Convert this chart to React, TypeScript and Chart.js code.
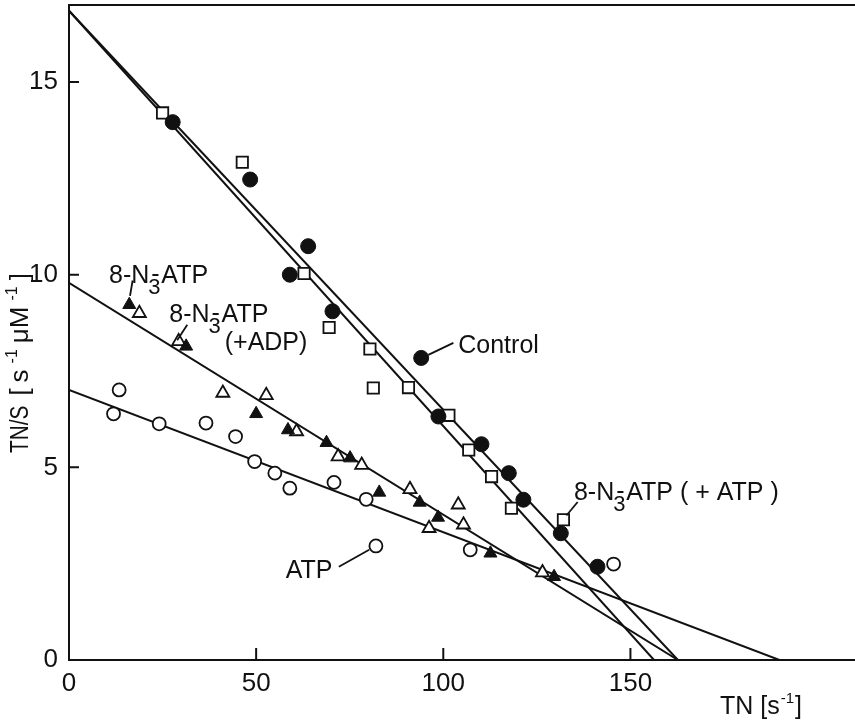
import React, { useEffect, useRef } from "react";
import { Chart, registerables } from "chart.js";

Chart.register(...registerables);

const FONT = '"Liberation Sans", Arial, Helvetica, sans-serif';

// Axis ticks
const xTickValues = [0, 50, 100, 150];
const yTickValues = [0, 5, 10, 15];
const xMax = 210;
const yMax = 17;

// Control (filled circles)
const controlTN = [27.7, 48.4, 59.0, 63.9, 70.4, 98.7, 110.2, 117.5, 121.4, 131.4, 141.2, 94.1];
const controlTNS = [13.96, 12.47, 10.0, 10.74, 9.05, 6.32, 5.6, 4.85, 4.16, 3.29, 2.42, 7.84];

// 8-N3-ATP (+ATP) (open squares)
const plusAtpTN = [25.0, 46.3, 62.8, 69.5, 80.4, 81.3, 90.7, 101.5, 106.8, 112.9, 118.2, 132.1];
const plusAtpTNS = [14.2, 12.92, 10.03, 8.63, 8.07, 7.06, 7.07, 6.35, 5.45, 4.76, 3.94, 3.64];

// 8-N3-ATP (filled triangles)
const n3atpTN = [16.1, 31.3, 50.0, 58.5, 68.8, 75.1, 82.9, 93.7, 98.6, 112.6, 129.6];
const n3atpTNS = [9.22, 8.14, 6.39, 5.97, 5.64, 5.24, 4.35, 4.09, 3.7, 2.77, 2.16];

// 8-N3-ATP (+ADP) (open triangles)
const plusAdpTN = [18.8, 29.3, 41.1, 52.7, 60.8, 71.9, 78.2, 91.1, 96.2, 104.0, 105.4, 126.5];
const plusAdpTNS = [9.0, 8.27, 6.93, 6.87, 5.93, 5.28, 5.06, 4.43, 3.42, 4.03, 3.51, 2.27];

// ATP (open circles)
const atpTN = [11.9, 13.4, 24.1, 36.6, 44.5, 49.6, 55.0, 59.0, 70.8, 79.4, 107.2, 145.5, 82.0];
const atpTNS = [6.39, 7.01, 6.13, 6.15, 5.8, 5.15, 4.85, 4.46, 4.61, 4.17, 2.86, 2.49, 2.96];

// Fitted lines: [TN/S intercept at TN=0, TN intercept at TN/S=0]
const controlFit = [16.85, 162.7];
const plusAtpFit = [16.85, 156.3];
const n3atpFit = [9.79, 162.7];
const atpFit = [7.01, 189.8];

const zip = (xs: number[], ys: number[]) => xs.map((x, i) => ({ x, y: ys[i] }));
const fitLine = (f: number[]) => [
  { x: 0, y: f[0] },
  { x: f[1], y: 0 },
];

function drawN3(ctx: CanvasRenderingContext2D, x: number, y: number, size: number, after: string) {
  ctx.font = `${size}px ${FONT}`;
  ctx.fillText("8-N", x, y);
  let cx = x + ctx.measureText("8-N").width;
  ctx.font = `${size - 3}px ${FONT}`;
  ctx.fillText("3", cx - 1, y + 11);
  ctx.font = `${size}px ${FONT}`;
  ctx.fillText("-", cx + 2, y - 1);
  cx += 12;
  ctx.fillText(after, cx, y);
}

const annotPlugin = {
  id: "annot",
  afterDraw(chart: any) {
    const ctx: CanvasRenderingContext2D = chart.ctx;
    const { left, right, top, bottom } = chart.chartArea;
    const xs = chart.scales.x;
    const ys = chart.scales.y;
    const X = (v: number) => xs.getPixelForValue(v);
    const Y = (v: number) => ys.getPixelForValue(v);
    ctx.save();
    ctx.strokeStyle = "#111";
    ctx.fillStyle = "#111";
    ctx.lineWidth = 2;
    ctx.beginPath();
    ctx.moveTo(left - 1, top);
    ctx.lineTo(right, top);
    xTickValues.forEach((v) => {
      if (v === 0) return;
      ctx.moveTo(X(v), bottom);
      ctx.lineTo(X(v), bottom - 12);
    });
    yTickValues.forEach((v) => {
      if (v === 0) return;
      ctx.moveTo(left, Y(v));
      ctx.lineTo(left + 10, Y(v));
    });
    ctx.stroke();

    // pointers
    ctx.lineWidth = 1.8;
    const seg = (a: number[], b: number[]) => {
      ctx.beginPath();
      ctx.moveTo(X(a[0]), Y(a[1]));
      ctx.lineTo(X(b[0]), Y(b[1]));
      ctx.stroke();
    };
    seg([17.0, 9.85], [16.3, 9.45]);
    seg([31.6, 8.7], [28.9, 8.3]);
    seg([102.7, 8.23], [96.0, 7.92]);
    seg([135.9, 4.1], [132.9, 3.75]);
    seg([72.1, 2.42], [80.2, 2.86]);

    ctx.textBaseline = "alphabetic";
    ctx.textAlign = "left";
    drawN3(ctx, X(10.7), Y(9.79), 25, "ATP");
    drawN3(ctx, X(26.8), Y(8.78), 25, "ATP");
    ctx.font = `25px ${FONT}`;
    ctx.fillText("(+ADP)", X(41.6), Y(8.05));
    ctx.fillText("Control", X(104.0), Y(7.97));
    drawN3(ctx, X(134.9), Y(4.16), 25, "ATP ( + ATP )");
    ctx.font = `25px ${FONT}`;
    ctx.fillText("ATP", X(57.9), Y(2.13));

    // x axis title
    let cx = 720;
    const by = 714;
    ctx.font = `25px ${FONT}`;
    ctx.fillText("TN [s", cx, by);
    cx += ctx.measureText("TN [s").width + 1;
    ctx.font = `15px ${FONT}`;
    ctx.fillText("-1", cx, by - 11);
    cx += ctx.measureText("-1").width + 1;
    ctx.font = `25px ${FONT}`;
    ctx.fillText("]", cx, by);

    // y axis title (rotated)
    ctx.translate(28, 453);
    ctx.rotate(-Math.PI / 2);
    let tx = 0;
    ctx.font = `26px ${FONT}`;
    ctx.save();
    ctx.scale(0.8, 1);
    ctx.fillText("TN/S", 0, 0);
    ctx.restore();
    tx += ctx.measureText("TN/S").width * 0.8 + 10;
    const parts: [string, number, number][] = [
      ["[", 26, 0],
      ["s", 26, 0],
      ["-1", 16, -11],
      ["\u03bcM", 26, 0],
      ["-1", 16, -11],
      ["]", 26, 0],
    ];
    parts.forEach(([t, s, dy]) => {
      ctx.font = `${s}px ${FONT}`;
      ctx.fillText(t, tx, dy);
      tx += ctx.measureText(t).width + 6;
    });
    ctx.restore();
  },
};

export default function App() {
  const ref = useRef<HTMLCanvasElement | null>(null);
  useEffect(() => {
    if (!ref.current) return;
    const open = { backgroundColor: "#fff", borderColor: "#111", borderWidth: 1.8 };
    const filled = { backgroundColor: "#111", borderColor: "#111", borderWidth: 1 };
    const lineStyle = {
      showLine: true,
      pointRadius: 0,
      borderColor: "#111",
      borderWidth: 2,
      backgroundColor: "#111",
      order: 10,
    };
    const chart = new Chart(ref.current, {
      type: "scatter",
      data: {
        datasets: [
          { label: "Control fit", data: fitLine(controlFit), ...lineStyle },
          { label: "+ATP fit", data: fitLine(plusAtpFit), ...lineStyle },
          { label: "8-N3-ATP fit", data: fitLine(n3atpFit), ...lineStyle },
          { label: "ATP fit", data: fitLine(atpFit), ...lineStyle },
          { label: "Control", data: zip(controlTN, controlTNS), pointStyle: "circle", pointRadius: 7.5, order: 1, ...filled },
          { label: "8-N3-ATP (+ATP)", data: zip(plusAtpTN, plusAtpTNS), pointStyle: "rect", pointRadius: 8, order: 1, ...open },
          { label: "8-N3-ATP", data: zip(n3atpTN, n3atpTNS), pointStyle: "triangle", pointRadius: 7.5, order: 1, ...filled },
          { label: "8-N3-ATP (+ADP)", data: zip(plusAdpTN, plusAdpTNS), pointStyle: "triangle", pointRadius: 7.5, order: 1, ...open },
          { label: "ATP", data: zip(atpTN, atpTNS), pointStyle: "circle", pointRadius: 6.5, order: 1, ...open },
        ] as any,
      },
      options: {
        animation: false,
        responsive: false,
        devicePixelRatio: 1,
        layout: { autoPadding: false, padding: { top: 5, right: 0, left: 0, bottom: 0 } },
        plugins: { legend: { display: false }, tooltip: { enabled: false } },
        scales: {
          x: {
            type: "linear",
            min: 0,
            max: xMax,
            afterBuildTicks: (s: any) => {
              s.ticks = xTickValues.map((v) => ({ value: v }));
            },
            afterFit: (s: any) => {
              s.height = 61;
              s.paddingLeft = 0;
              s.paddingRight = 0;
              s.paddingTop = 0;
              s.paddingBottom = 0;
            },
            grid: { display: false, drawTicks: false },
            border: { display: true, color: "#111", width: 2 },
            ticks: { color: "#111", padding: 8, font: { family: FONT, size: 26 } },
          },
          y: {
            type: "linear",
            min: 0,
            max: yMax,
            afterBuildTicks: (s: any) => {
              s.ticks = yTickValues.map((v) => ({ value: v }));
            },
            afterFit: (s: any) => {
              s.width = 69;
              s.paddingLeft = 0;
              s.paddingRight = 0;
              s.paddingTop = 0;
              s.paddingBottom = 0;
            },
            grid: { display: false, drawTicks: false },
            border: { display: true, color: "#111", width: 2 },
            ticks: { color: "#111", padding: 11, font: { family: FONT, size: 26 } },
          },
        },
      } as any,
      plugins: [annotPlugin],
    });
    return () => chart.destroy();
  }, []);
  return (
    <div style={{ position: "absolute", left: 0, top: 0, width: 855, height: 721, background: "#fff" }}>
      <canvas ref={ref} width={855} height={721} style={{ width: 855, height: 721, display: "block" }} />
    </div>
  );
}
